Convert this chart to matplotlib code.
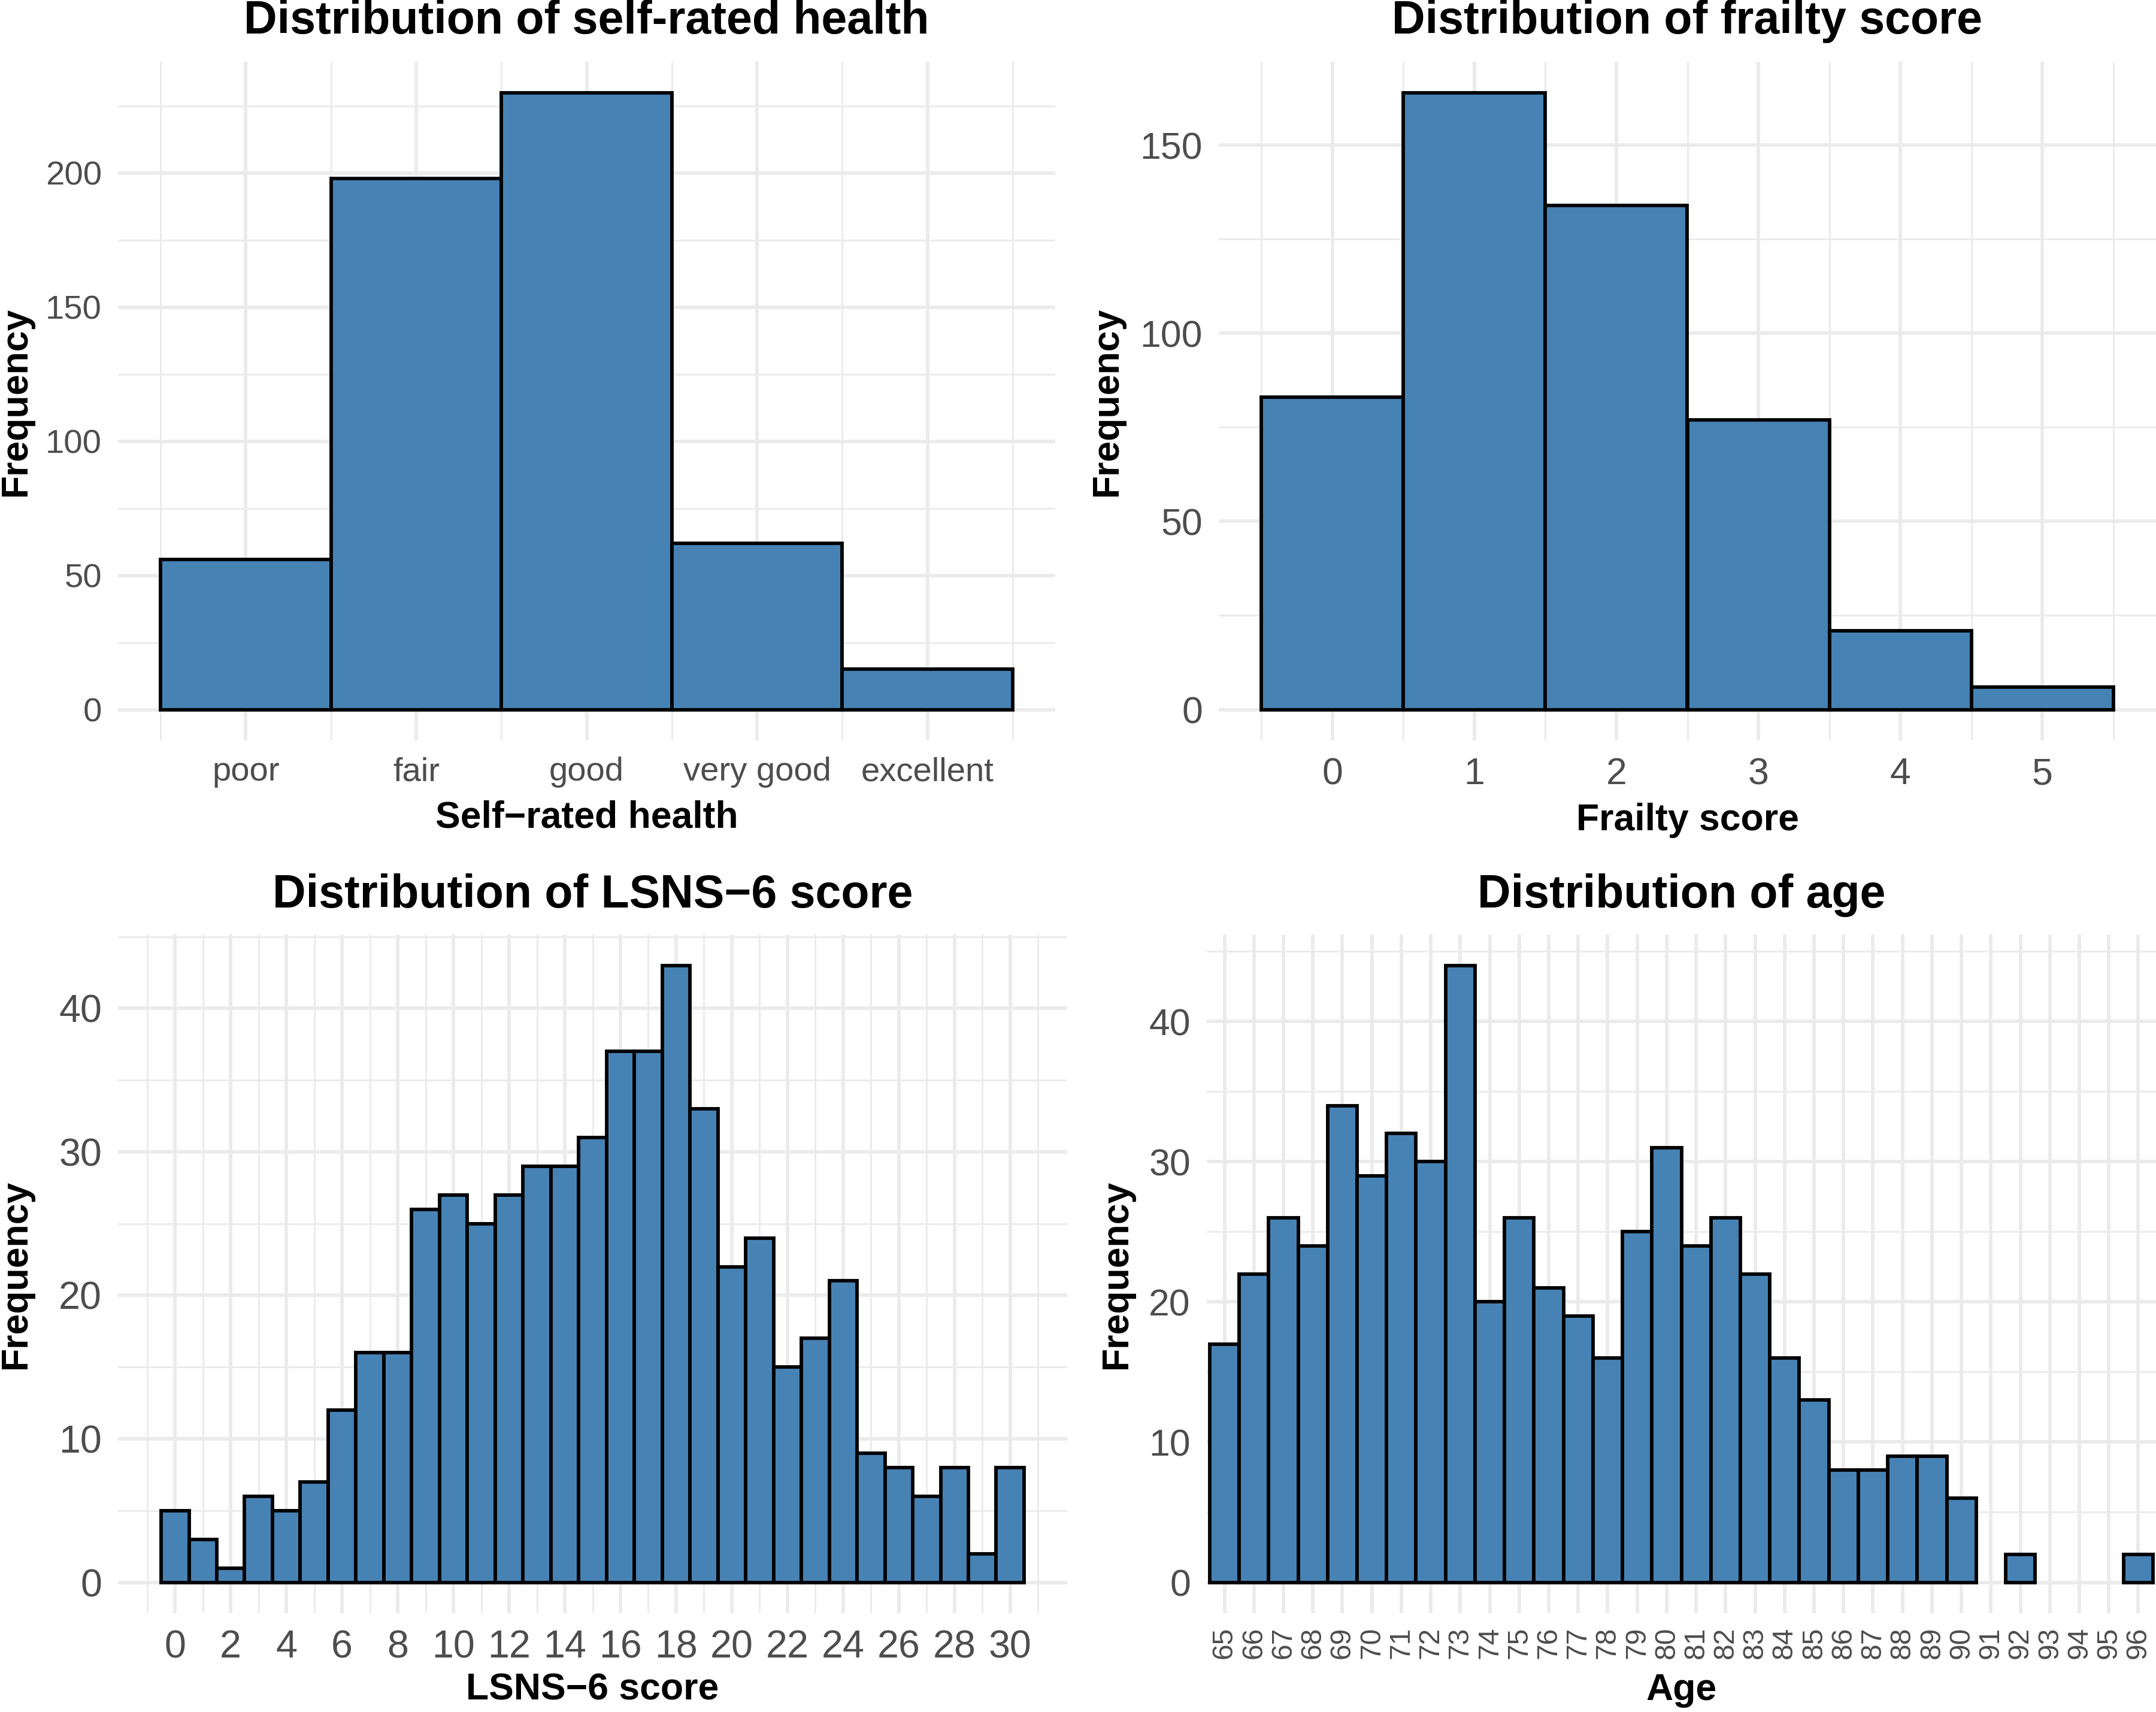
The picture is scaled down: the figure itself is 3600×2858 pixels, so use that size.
import numpy as np
import matplotlib
matplotlib.use("Agg")
import matplotlib.pyplot as plt
from matplotlib.ticker import MultipleLocator, FixedLocator

plt.rcParams["font.family"] = ["Liberation Sans", "DejaVu Sans"]

# data
srh_cats = ["poor", "fair", "good", "very good", "excellent"]
srh_counts = [56, 198, 230, 62, 15]

frailty_scores = [0, 1, 2, 3, 4, 5]
frailty_counts = [83, 164, 134, 77, 21, 6]

lsns_scores = list(range(31))
lsns_counts = [5, 3, 1, 6, 5, 7, 12, 16, 16, 26, 27, 25, 27, 29, 29, 31,
               37, 37, 43, 33, 22, 24, 15, 17, 21, 9, 8, 6, 8, 2, 8]

age_years = list(range(65, 97))
age_counts = [17, 22, 26, 24, 34, 29, 32, 30, 44, 20, 26, 21, 19, 16, 25, 31,
              24, 26, 22, 16, 13, 8, 8, 9, 9, 6, 0, 2, 0, 0, 0, 2]

W, H = 3600, 2858
fig = plt.figure(figsize=(W / 300, H / 300), dpi=300)

FILL = "#4682B4"
GRID = "#EBEBEB"
TICK = "#4D4D4D"


def px_rect(left, top, right, bottom):
    return [left / W, 1 - bottom / H, (right - left) / W, (bottom - top) / H]


def style(ax, xlim, ylim, ymaj, ymin, tick_size=13.5):
    ax.set_xlim(*xlim)
    ax.set_ylim(*ylim)
    ax.yaxis.set_major_locator(MultipleLocator(ymaj))
    ax.yaxis.set_minor_locator(MultipleLocator(ymin))
    for s in ax.spines.values():
        s.set_visible(False)
    ax.set_axisbelow(True)
    ax.grid(which="major", color=GRID, linewidth=1.4)
    ax.grid(which="minor", color=GRID, linewidth=0.7)
    ax.tick_params(which="both", length=0, colors=TICK, labelsize=tick_size, pad=6.5)
    ax.set_facecolor("white")


def labels(ax, box, title, xlabel, ylab_x, title_y, xlab_y):
    cx = (box[0] + box[2]) / 2 / W
    cy = 1 - (box[1] + box[3]) / 2 / H
    fig.text(cx, 1 - title_y / H, title, ha="center", va="baseline",
             fontsize=18.5, fontweight="bold")
    fig.text(cx, 1 - xlab_y / H, xlabel, ha="center", va="baseline",
             fontsize=15, fontweight="bold")
    fig.text(ylab_x / W, cy, "Frequency", ha="center", va="center",
             rotation=90, fontsize=15, fontweight="bold")


def bars(ax, x, y):
    x = np.asarray(x)
    y = np.asarray(y)
    keep = y > 0
    ax.bar(x[keep], y[keep], width=1.0, color=FILL, edgecolor="black",
           linewidth=1.4, zorder=3)


# self-rated health
box1 = (197, 103, 1762, 1236)
ax1 = fig.add_axes(px_rect(*box1))
pos = np.arange(1, len(srh_cats) + 1)
bars(ax1, pos, srh_counts)
style(ax1, (0.25, 5.75), (-11.5, 241.5), 50, 25)
ax1.xaxis.set_major_locator(FixedLocator(pos))
ax1.xaxis.set_minor_locator(FixedLocator(np.arange(0.5, 6, 1)))
ax1.set_xticklabels(srh_cats)
labels(ax1, box1, "Distribution of self-rated health", "Self\u2212rated health", 26, 56, 1382)

# frailty
box2 = (2035, 103, 3600, 1236)
ax2 = fig.add_axes(px_rect(*box2))
bars(ax2, frailty_scores, frailty_counts)
style(ax2, (-0.8, 5.8), (-8.2, 172.2), 50, 25, tick_size=15)
ax2.xaxis.set_major_locator(FixedLocator(frailty_scores))
ax2.xaxis.set_minor_locator(FixedLocator(np.arange(-0.5, 6, 1)))
labels(ax2, box2, "Distribution of frailty score", "Frailty score", 1848, 56, 1386)

# LSNS-6
box3 = (197, 1560, 1782, 2693)
ax3 = fig.add_axes(px_rect(*box3))
bars(ax3, lsns_scores, lsns_counts)
style(ax3, (-2.05, 32.05), (-2.15, 45.15), 10, 5, tick_size=15.5)
ax3.xaxis.set_major_locator(FixedLocator(lsns_scores[::2]))
ax3.xaxis.set_minor_locator(FixedLocator(np.arange(-1, 32, 2)))
labels(ax3, box3, "Distribution of LSNS\u22126 score", "LSNS\u22126 score", 26, 1515, 2838)

# age
box4 = (2015, 1560, 3600, 2693)
ax4 = fig.add_axes(px_rect(*box4))
bars(ax4, age_years, age_counts)
style(ax4, (64.4, 96.6), (-2.2, 46.2), 10, 5, tick_size=15)
ax4.xaxis.set_major_locator(FixedLocator(age_years))
ax4.xaxis.set_minor_locator(FixedLocator([]))
ax4.set_xticklabels([str(a) for a in age_years], rotation=90)
ax4.tick_params(axis="x", labelsize=11.5, pad=5.5)
labels(ax4, box4, "Distribution of age", "Age", 1864, 1515, 2838)

fig.savefig("out.png", dpi=300, facecolor="white")
